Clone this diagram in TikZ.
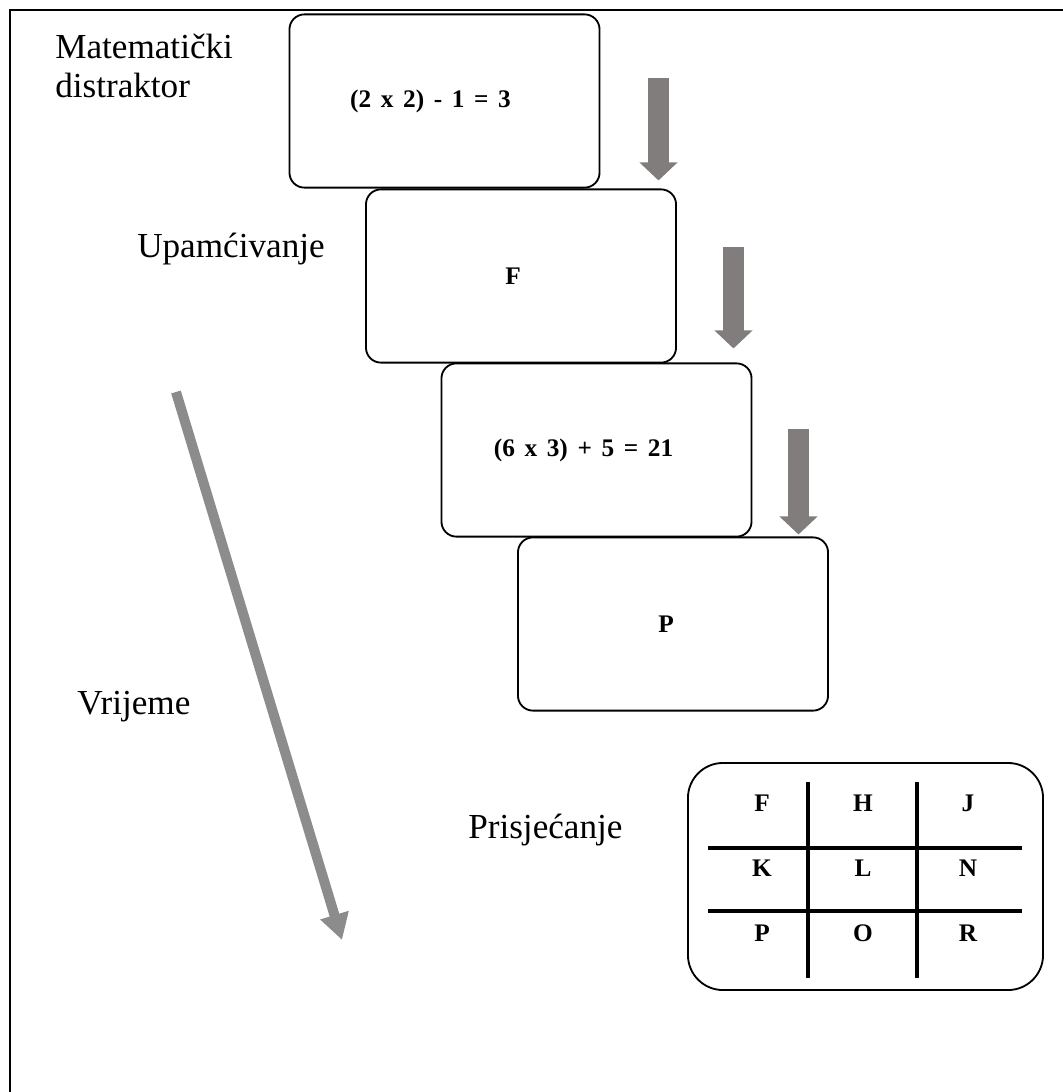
\documentclass[tikz,border=0pt]{standalone}
\usepackage{fontspec}
\setmainfont{Liberation Serif}
\usetikzlibrary{arrows.meta}
\definecolor{stepgray}{RGB}{128,125,124}
\definecolor{timegray}{RGB}{140,140,140}
\newcommand\cardfont{\bfseries\fontsize{18}{21}\selectfont\spaceskip=0.38em\relax}

\begin{document}
\begin{tikzpicture}[x=0.025cm, y=-0.025cm,
    card/.style={draw, rounded corners=0.375cm, line width=1.3pt, minimum width=7.75cm, minimum height=4.33cm, inner sep=0pt, font=\cardfont},
    caption/.style={inner sep=0pt, anchor=base west, font=\fontsize{25}{27.7}\selectfont},
    cell/.style={inner sep=0pt, font=\cardfont},
    down/.style={stepgray, line width=0.525cm, -{Triangle[length=0.45cm, width=0.925cm]}}]
    \useasboundingbox (0,0) rectangle (1063,1092);
    \draw[line width=0.06cm] (10,1092) -- (10,10) -- (1063,10);

    \node[card] (m1) at (444.5,101) {\hspace*{-0.7cm}(2 x 2) - 1 = 3};
    \node[card] (f) at (521,276) {\hspace*{-0.4cm}F};
    \node[card] (m2) at (596.5,450) {\hspace*{-0.65cm}(6 x 3) + 5 = 21};
    \node[card] (p) at (673,624) {\hspace*{-0.35cm}P};

    \node[caption, anchor=north west, align=left] (lm) at (55,34) {Matematički\\distraktor};
    \node[caption] (lu) at (137,257) {Upamćivanje};
    \node[caption] (lv) at (77,714) {Vrijeme};
    \node[caption] (lp) at (468,838) {Prisjećanje};

    % steps
    \coordinate (a1) at (658.5,78);
    \coordinate (a2) at (733.5,247);
    \coordinate (a3) at (798.5,429);
    \draw[down, shorten >=0.2cm] (a1) -- (a1 |- f.north);
    \draw[down, shorten >=0.35cm] (a2) -- (a2 |- m2.north);
    \draw[down, shorten >=0.05cm] (a3) -- (a3 |- p.north);

    % time
    \coordinate (t0) at (176,392);
    \coordinate (t1) at (342,940);
    \draw[timegray, line width=0.25cm, -{Triangle[length=0.65cm, width=0.7cm]}] (t0) -- (t1);

    % recall grid
    \node[draw, rounded corners=0.875cm, line width=1.3pt, minimum width=8.875cm, minimum height=5.675cm] (grid) at (865.5,876.5) {};
    \draw[line width=0.1cm] (808,782) -- (808,978) (917,782) -- (917,978)
          (708,848) -- (1022,848) (708,911) -- (1022,911);
    \node[cell] (c1) at (762,803) {F};
    \node[cell] (c2) at (863,803) {H};
    \node[cell] (c3) at (968,803) {J};
    \node[cell] (c4) at (762,868) {K};
    \node[cell] (c5) at (863,868) {L};
    \node[cell] (c6) at (968,868) {N};
    \node[cell] (c7) at (762,933) {P};
    \node[cell] (c8) at (863,933) {O};
    \node[cell] (c9) at (968,933) {R};
\end{tikzpicture}
\end{document}
